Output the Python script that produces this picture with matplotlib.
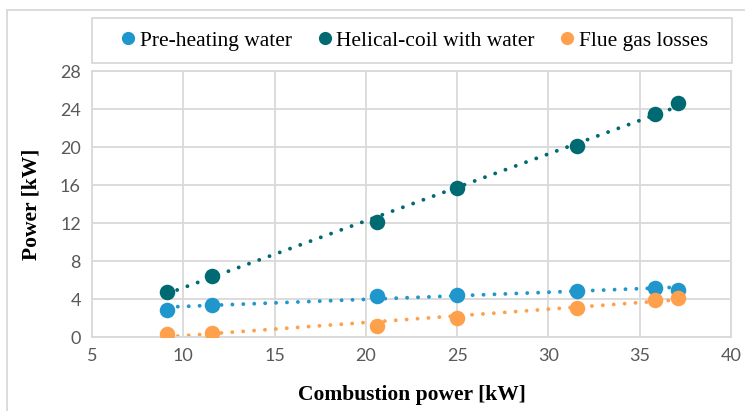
import numpy as np
import matplotlib
matplotlib.use("Agg")
import matplotlib.pyplot as plt
from matplotlib.lines import Line2D
from matplotlib.patches import Rectangle

combustion = [9.1, 11.55, 20.6, 25.0, 31.55, 35.85, 37.1]
preheating = [2.85, 3.38, 4.35, 4.45, 4.86, 5.2, 4.97]
helical = [4.75, 6.45, 12.15, 15.7, 20.15, 23.45, 24.6]
flue = [0.32, 0.42, 1.2, 1.95, 3.07, 3.9, 4.15]

series_names = ["Pre-heating water", "Helical-coil with water", "Flue gas losses"]
colors = ["#1F97CD", "#006A72", "#FFA14C"]
x_ticks = [5, 10, 15, 20, 25, 30, 35, 40]
y_ticks = [0, 4, 8, 12, 16, 20, 24, 28]

fig = plt.figure(figsize=(7.45, 4.11), dpi=100)
ax = fig.add_axes([92/745, 1-337/411, (731-92)/745, (337-71)/411])

x = np.array(combustion)
for vals, c, name in zip([preheating, helical, flue], colors, series_names):
    y = np.array(vals)
    p = np.polyfit(x, y, 1)
    xx = np.array([x.min(), x.max()])
    ax.plot(xx, np.polyval(p, xx), linestyle=(0, (0.01, 2.8)), color=c, lw=2.8,
            dash_capstyle="round", zorder=2)
    ax.scatter(x, y, s=125, color=c, zorder=3, linewidths=0, label=name)

ax.set_xlim(5, 40)
ax.set_ylim(0, 28)
ax.set_xticks(x_ticks)
ax.set_yticks(y_ticks)
ax.grid(True, color="#D9D9D9", lw=1.3)
ax.set_axisbelow(True)
for s in ax.spines.values():
    s.set_color("#D9D9D9")
    s.set_linewidth(1.3)
ax.tick_params(length=0, labelsize=13, labelcolor="#595959", pad=8)
for lab in ax.get_xticklabels() + ax.get_yticklabels():
    lab.set_fontfamily("Lato")

ax.set_xlabel("Combustion power [kW]", fontfamily="Liberation Serif",
              fontweight="bold", fontsize=15.5, labelpad=15)
ax.set_ylabel("Power [kW]", fontfamily="Liberation Serif",
              fontweight="bold", fontsize=15.5, labelpad=13)

handles = [Line2D([0], [0], marker="o", linestyle="none", markersize=9.5,
                  markerfacecolor=c, markeredgewidth=0) for c in colors]
leg = fig.legend(handles, series_names, loc="center",
                 bbox_to_anchor=(94/745, 1-63/411, (732-92)/745, 45/411),
                 ncol=3, frameon=False, handletextpad=0.15,
                 handlelength=0.8, columnspacing=1.1, borderaxespad=0,
                 prop={"family": "Liberation Serif", "size": 15.5})

# legend box
fig.add_artist(Rectangle((92/745, 1-63/411), (732-92)/745, 45/411,
                         transform=fig.transFigure, fill=False,
                         edgecolor="#D9D9D9", lw=1.3))

# outer chart border
fig.add_artist(Line2D([7/745, 7/745], [0, 1-10/411], transform=fig.transFigure,
                      color="#D9D9D9", lw=1.3))
fig.add_artist(Line2D([7/745, 1], [1-10/411, 1-10/411], transform=fig.transFigure,
                      color="#D9D9D9", lw=1.3))

fig.savefig("out.png", dpi=100)
